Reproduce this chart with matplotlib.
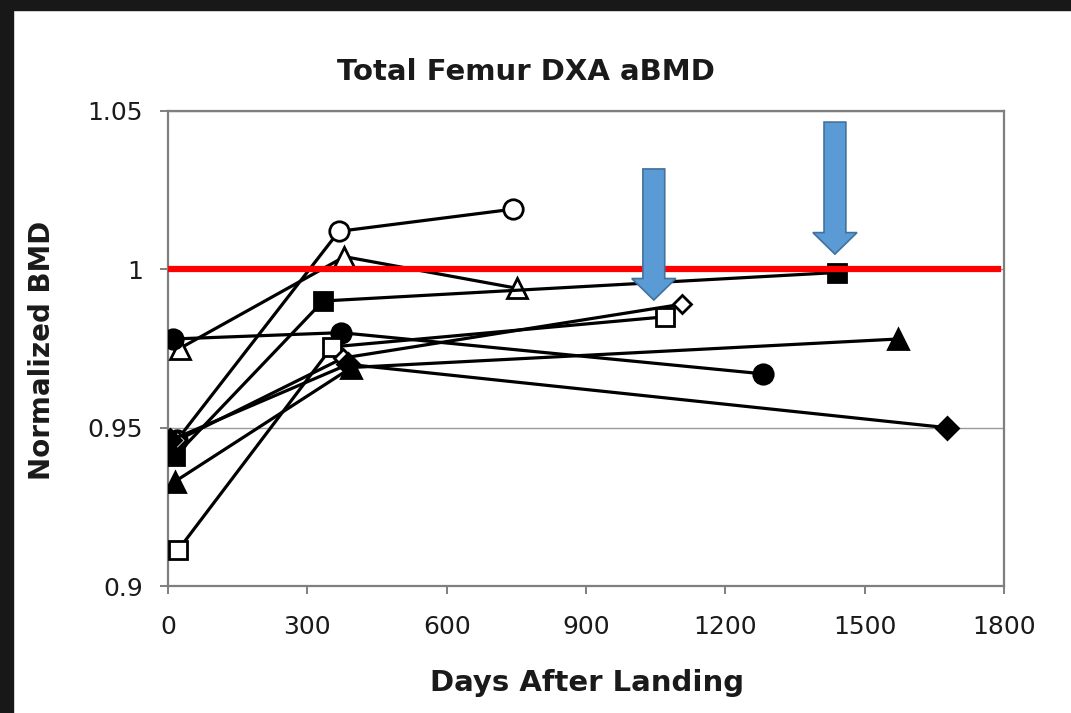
import matplotlib.pyplot as plt
from matplotlib.patches import Rectangle, FancyArrow

# days after landing / normalized BMD, one list per crew member (marker type)
open_circle_days = [19, 368, 743]
open_circle_bmd = [0.946, 1.012, 1.019]
open_tri_days = [25, 380, 752]
open_tri_bmd = [0.975, 1.004, 0.994]
open_sq_days = [22, 353, 1070]
open_sq_bmd = [0.9114, 0.9755, 0.985]
open_dia_days = [20, 377, 1107]
open_dia_bmd = [0.946, 0.972, 0.989]
fill_circle_days = [11, 372, 1281]
fill_circle_bmd = [0.978, 0.980, 0.967]
fill_tri_days = [15, 395, 1572]
fill_tri_bmd = [0.933, 0.969, 0.978]
fill_sq_days = [15, 334, 1440]
fill_sq_bmd = [0.941, 0.990, 0.999]
fill_dia_days = [5, 388, 1677]
fill_dia_bmd = [0.946, 0.970, 0.950]

ref_days = [0, 1787]
ref_bmd = [1.0, 1.0]

# blue arrows: x, top, tip
arrow_x = [1046, 1436]
arrow_top = [1.0317, 1.0465]
arrow_tip = [0.9903, 1.0048]

xticks = [0, 300, 600, 900, 1200, 1500, 1800]
yticks = [0.9, 0.95, 1.0, 1.05]
ytick_labels = ["0.9", "0.95", "1", "1.05"]

plt.rcParams['font.family'] = ['DejaVu Sans']
txt = '#1a1a1a'

fig = plt.figure(figsize=(10.71, 7.13), dpi=100)
ax = fig.add_axes([168/1071, 127/713, 836/1071, 475/713])

series = [
    (open_circle_days, open_circle_bmd, 'o', 'white', 14),
    (open_tri_days, open_tri_bmd, '^', 'white', 14),
    (fill_sq_days, fill_sq_bmd, 's', 'black', 13),
    (fill_circle_days, fill_circle_bmd, 'o', 'black', 14),
    (open_sq_days, open_sq_bmd, 's', 'white', 13),
    (open_dia_days, open_dia_bmd, 'D', 'white', 9),
    (fill_tri_days, fill_tri_bmd, '^', 'black', 14),
    (fill_dia_days, fill_dia_bmd, 'D', 'black', 11),
]
for d, b, mk, fc, ms in series:
    ax.plot(d, b, color='black', lw=2.3, marker=mk, markersize=ms,
            markerfacecolor=fc, markeredgecolor='black', markeredgewidth=2, zorder=3)

ax.plot(ref_days, ref_bmd, color='#ff0000', lw=4.5, zorder=4)

for x, top, tip in zip(arrow_x, arrow_top, arrow_tip):
    ax.add_patch(FancyArrow(x, top, 0, tip - top, width=47, head_width=95,
                            head_length=0.0068, length_includes_head=True,
                            facecolor='#5b9bd5', edgecolor='#41719c', lw=1.2, zorder=5))

ax.set_xlim(0, 1800)
ax.set_ylim(0.9, 1.05)
ax.set_xticks(xticks)
ax.set_yticks(yticks)
ax.set_yticklabels(ytick_labels)
ax.grid(axis='y', color='#9a9a9a', lw=1)
ax.set_axisbelow(True)
for s in ax.spines.values():
    s.set_color('#7f7f7f')
    s.set_linewidth(1.6)
ax.tick_params(direction='out', length=6, width=1.4, color='#7f7f7f',
               labelsize=18, labelcolor=txt)
ax.tick_params(axis='x', pad=15)
ax.tick_params(axis='y', pad=12)

fig.text(526/1071, 1 - 72/713, "Total Femur DXA aBMD", ha='center', va='center',
         fontsize=21, fontweight='bold', color=txt)
fig.text(587/1071, 1 - 683/713, "Days After Landing", ha='center', va='center',
         fontsize=21, fontweight='bold', color=txt)
fig.text(42/1071, 1 - 350/713, "Normalized BMD", ha='center', va='center',
         rotation=90, fontsize=20, fontweight='bold', color=txt)

# dark screenshot border on top and left
fig.add_artist(Rectangle((0, 1 - 10/713), 1, 10/713, transform=fig.transFigure,
                         color='#181818', zorder=10))
fig.add_artist(Rectangle((0, 0), 13/1071, 1, transform=fig.transFigure,
                         color='#181818', zorder=10))

fig.savefig("out.png", dpi=100)
